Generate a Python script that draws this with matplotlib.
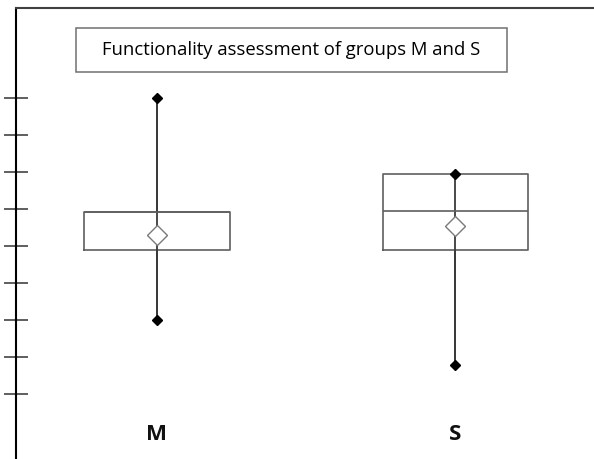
import matplotlib
matplotlib.use("Agg")
import matplotlib.pyplot as plt
from matplotlib.patches import Rectangle

# group summaries on the assessment scale
groups = ["M", "S"]
positions = [1, 2]
minimum = [2.0, 0.8]
q1 = [3.9, 3.9]
median = [4.92, 4.95]
q3 = [4.92, 5.95]
maximum = [8.0, 5.95]
means = [4.3, 4.55]
tick_values = [0, 1, 2, 3, 4, 5, 6, 7, 8]

title = "Functionality assessment of groups M and S"

plt.rcParams["font.family"] = ["Open Sans", "DejaVu Sans"]

fig = plt.figure(figsize=(5.94, 4.59), dpi=100)
ax = fig.add_axes([16 / 594, 0.0, 578 / 594, 1 - 8 / 459])

stats = []
for i in range(len(groups)):
    stats.append({"label": groups[i], "whislo": minimum[i], "q1": q1[i],
                  "med": median[i], "q3": q3[i], "whishi": maximum[i],
                  "mean": means[i], "fliers": []})

# whisker line runs straight through the box
ax.vlines(positions, minimum, maximum, color="#3a3a3a", lw=1.3, zorder=1)
ax.bxp(stats, positions=positions, widths=0.487, showmeans=True,
       showcaps=False, showfliers=False, patch_artist=False,
       boxprops=dict(color="#5f5f5f", lw=1.2),
       medianprops=dict(color="#5f5f5f", lw=1.2),
       whiskerprops=dict(color="#3a3a3a", lw=1.3),
       meanprops=dict(marker="D", markersize=10.5, markerfacecolor="white",
                      markeredgecolor="#7a7a7a", markeredgewidth=1.0),
       zorder=2)
ax.plot(positions, minimum, ls="none", marker="D", ms=5, color="black", zorder=3)
ax.plot(positions, maximum, ls="none", marker="D", ms=5, color="black", zorder=3)

for p, g in zip(positions, groups):
    ax.text(p, -1.1, g, ha="center", va="center", fontsize=16,
            fontweight="bold", color="#111111")

ax.set_xlim(0.527, 2.466)
ax.set_ylim(-1.75, 10.44)
ax.set_yticks(tick_values)
ax.set_yticklabels([])
ax.set_xticks([])
ax.tick_params(axis="y", direction="inout", length=17, width=1.1, color="#333333")
for side in ["right", "bottom"]:
    ax.spines[side].set_visible(False)
ax.spines["left"].set_color("black")
ax.spines["left"].set_linewidth(1.5)
ax.spines["top"].set_color("#404040")
ax.spines["top"].set_linewidth(1.5)

# title box
fig.patches.append(Rectangle((76 / 594, 1 - 72.3 / 459), 431 / 594, 44.6 / 459,
                             transform=fig.transFigure, fill=False,
                             edgecolor="#707070", lw=1.1))
fig.text(291.5 / 594, 1 - 50 / 459, title, ha="center", va="center",
         fontsize=13.3, color="black")

fig.savefig("out.png", dpi=100)
